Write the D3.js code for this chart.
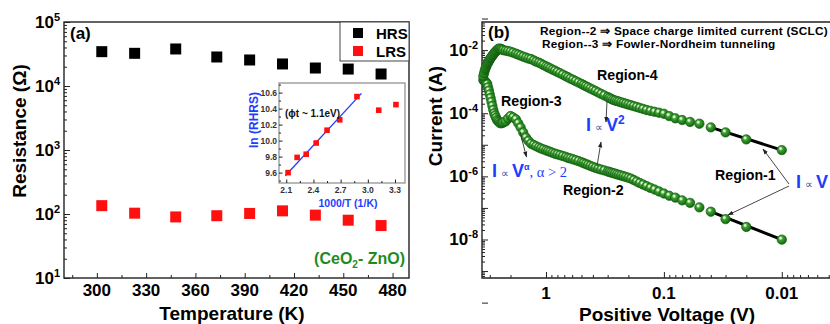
<!DOCTYPE html>
<html>
<head>
<meta charset="utf-8">
<script src="https://cdn.jsdelivr.net/npm/d3@7"></script>
<style>
  body { margin: 0; background: #fff; }
  svg { display: block; font-family: "Liberation Sans", Arial, Helvetica, sans-serif; font-weight: bold; }
</style>
</head>
<body>
<svg id="chart" width="830" height="324"></svg>
<script>
// ---- panel (a): resistance vs temperature
var temperature = [303, 323, 348, 373, 393, 413, 433, 453, 473];
var hrsOhm = [34400, 32400, 37900, 28400, 25500, 22100, 19100, 18400, 15400];
var lrsOhm = [135, 103, 90, 94, 102, 112, 96, 80, 66];
var tempTicks = [300, 330, 360, 390, 420, 450, 480];
var resTicks = [1e1, 1e2, 1e3, 1e4, 1e5];

// ---- inset: ln(R_HRS) vs 1000/T
var invTemp = [2.12, 2.22, 2.32, 2.43, 2.55, 2.69, 2.88, 3.12, 3.31];
var lnRhrs = [9.60, 9.79, 9.83, 9.97, 10.13, 10.26, 10.55, 10.38, 10.45];
var fitInvT = [2.09, 2.93];
var fitLnR = [9.56, 10.59];
var insetXTicks = [2.1, 2.4, 2.7, 3.0, 3.3];
var insetYTicks = [9.6, 9.8, 10.0, 10.2, 10.4, 10.6];

// ---- panel (b): current vs positive voltage
var voltage = [3.4, 3.35, 3.3, 3.25, 3.2, 3.15, 3.1, 3.05, 3.0, 2.95, 2.9, 2.85, 2.8, 2.75, 2.7, 2.65,
  2.6, 2.55, 2.5, 2.45, 2.4, 2.35, 2.3, 2.2, 2.1, 2.0, 1.9, 1.8, 1.72, 1.64, 1.56, 1.48, 1.41, 1.34,
  1.27, 1.21, 1.15, 1.1, 1.05, 1.0, 0.96, 0.92, 0.88, 0.84, 0.80, 0.76, 0.72, 0.68, 0.65, 0.62, 0.59,
  0.56, 0.53, 0.50, 0.48, 0.46, 0.44, 0.42, 0.40, 0.38, 0.36, 0.34, 0.32, 0.30, 0.29, 0.28, 0.27, 0.26,
  0.25, 0.24, 0.23, 0.22, 0.21, 0.20, 0.19, 0.18, 0.17, 0.16, 0.15, 0.14, 0.13, 0.12, 0.11, 0.10, 0.09,
  0.08, 0.07, 0.06, 0.05, 0.04, 0.03, 0.02, 0.01];
var currentLRS = [1.50e-3, 1.87e-3, 2.33e-3, 2.69e-3, 3.12e-3, 3.61e-3, 4.02e-3, 4.49e-3, 5.0e-3, 5.58e-3,
  6.0e-3, 6.7e-3, 7.2e-3, 8.0e-3, 8.6e-3, 9.3e-3, 1.0e-2, 1.08e-2, 1.11e-2, 1.11e-2, 1.08e-2, 1.04e-2,
  1.0e-2, 9.6e-3, 9.3e-3, 8.9e-3, 8.3e-3, 7.7e-3, 7.2e-3, 6.7e-3, 6.2e-3, 5.8e-3, 5.4e-3, 5.2e-3, 4.7e-3,
  4.3e-3, 4.0e-3, 3.7e-3, 3.35e-3, 3.07e-3, 2.85e-3, 2.64e-3, 2.41e-3, 2.23e-3, 2.03e-3, 1.85e-3, 1.67e-3,
  1.49e-3, 1.38e-3, 1.25e-3, 1.15e-3, 1.04e-3, 9.4e-4, 8.5e-4, 7.8e-4, 7.2e-4, 6.65e-4, 6.05e-4, 5.55e-4,
  5.05e-4, 4.55e-4, 4.08e-4, 3.66e-4, 3.26e-4, 3.05e-4, 2.86e-4, 2.66e-4, 2.54e-4, 2.43e-4, 2.33e-4,
  2.21e-4, 2.10e-4, 2.0e-4, 1.88e-4, 1.79e-4, 1.68e-4, 1.58e-4, 1.47e-4, 1.37e-4, 1.26e-4, 1.19e-4,
  1.11e-4, 1.04e-4, 9.6e-5, 8.1e-5, 6.9e-5, 6.1e-5, 5.3e-5, 4.66e-5, 3.56e-5, 2.47e-5, 1.48e-5, 6.8e-6];
var currentHRS = [1.12e-3, 1.08e-3, 1.02e-3, 9.7e-4, 9.2e-4, 8.4e-4, 6.6e-4, 5.2e-4, 3.96e-4, 3.03e-4,
  2.31e-4, 1.71e-4, 1.28e-4, 1.0e-4, 8.45e-5, 7.15e-5, 6.1e-5, 5.66e-5, 5.27e-5, 4.86e-5, 4.83e-5, 4.9e-5,
  5.11e-5, 5.5e-5, 6.75e-5, 8.15e-5, 7.4e-5, 6.4e-5, 4.83e-5, 3.53e-5, 2.45e-5, 1.70e-5, 1.34e-5, 1.09e-5,
  9.86e-6, 8.97e-6, 8.22e-6, 7.64e-6, 7.15e-6, 6.7e-6, 6.32e-6, 5.96e-6, 5.58e-6, 5.23e-6, 4.97e-6,
  4.69e-6, 4.42e-6, 4.14e-6, 3.85e-6, 3.68e-6, 3.47e-6, 3.26e-6, 3.05e-6, 2.79e-6, 2.64e-6, 2.47e-6,
  2.31e-6, 2.15e-6, 2.0e-6, 1.86e-6, 1.75e-6, 1.64e-6, 1.54e-6, 1.43e-6, 1.38e-6, 1.32e-6, 1.27e-6,
  1.22e-6, 1.16e-6, 1.11e-6, 1.06e-6, 1.01e-6, 9.57e-7, 9.03e-7, 8.46e-7, 7.64e-7, 6.85e-7, 6.14e-7,
  5.5e-7, 4.9e-7, 4.33e-7, 3.82e-7, 3.33e-7, 2.86e-7, 2.43e-7, 2.12e-7, 1.74e-7, 1.45e-7, 1.04e-7,
  7.6e-8, 4.42e-8, 2.5e-8, 9.9e-9];
var voltTicks = [1, 0.1, 0.01];
var currentTicks = [1e-2, 1e-4, 1e-6, 1e-8];
var ohmicFrom = 0.04; // Region-1 guide lines run from this voltage down to the last point

var svg = d3.select("#chart");
var blue = "#1f3dff", green = "#1f8c1f";

var defs = svg.append("defs");
var ball = defs.append("radialGradient").attr("id", "ball")
  .attr("cx", "42%").attr("cy", "40%").attr("r", "60%").attr("fx", "36%").attr("fy", "32%");
ball.append("stop").attr("offset", "0%").attr("stop-color", "#ffffff");
ball.append("stop").attr("offset", "16%").attr("stop-color", "#cfeec2");
ball.append("stop").attr("offset", "38%").attr("stop-color", "#3f9f33");
ball.append("stop").attr("offset", "78%").attr("stop-color", "#1f7d1a");
ball.append("stop").attr("offset", "100%").attr("stop-color", "#125610");
defs.append("marker").attr("id", "arr").attr("markerUnits", "userSpaceOnUse")
  .attr("viewBox", "0 0 10 10").attr("refX", 9).attr("refY", 5)
  .attr("markerWidth", 6).attr("markerHeight", 6).attr("orient", "auto")
  .append("path").attr("d", "M0,1.5L10,5L0,8.5z").attr("fill", "#222");

function minorLog(lo, hi) {
  var out = [];
  for (var e = -10; e <= 6; e++)
    for (var k = 2; k <= 9; k++) {
      var v = k * Math.pow(10, e);
      if (v > lo && v < hi) out.push(v);
    }
  return out;
}
function decades(lo, hi) {
  var out = [];
  for (var e = -10; e <= 6; e++) { var v = Math.pow(10, e); if (v >= lo && v <= hi) out.push(v); }
  return out;
}
function tickGroup(axis, transform) {
  var g = svg.append("g").attr("transform", transform).call(axis);
  g.select(".domain").remove();
  g.selectAll(".tick text").remove();
  g.selectAll(".tick line").attr("stroke", "#222").attr("stroke-width", 1);
  return g;
}
function powLabel(x, y, exp, anchor) {
  var t = svg.append("text").attr("x", x).attr("y", y).attr("text-anchor", anchor || "end")
    .attr("font-size", 17);
  t.append("tspan").text("10");
  t.append("tspan").attr("dy", -7).attr("font-size", 11).text(exp);
  return t;
}

// =========================== panel (a)
var A = { left: 64, right: 409, top: 22, bottom: 278 };
var xa = d3.scaleLinear().domain([280, 490]).range([A.left, A.right]);
var ya = d3.scaleLog().domain([10, 1e5]).range([A.bottom, A.top]);

tickGroup(d3.axisBottom(xa).tickValues(d3.range(285, 490, 30)).tickSize(-3), "translate(0," + A.bottom + ")");
tickGroup(d3.axisBottom(xa).tickValues(tempTicks).tickSize(-5), "translate(0," + A.bottom + ")");
tickGroup(d3.axisLeft(ya).tickValues(minorLog(10, 1e5)).tickSize(-3), "translate(" + A.left + ",0)");
tickGroup(d3.axisLeft(ya).tickValues(resTicks).tickSize(-6), "translate(" + A.left + ",0)");

svg.append("rect").attr("x", A.left).attr("y", A.top)
  .attr("width", A.right - A.left).attr("height", A.bottom - A.top)
  .attr("fill", "none").attr("stroke", "#222").attr("stroke-width", 1.4);

svg.append("g").selectAll("text").data(tempTicks).enter().append("text")
  .attr("x", function (d) { return xa(d); }).attr("y", A.bottom + 18)
  .attr("text-anchor", "middle").attr("font-size", 17).text(function (d) { return d; });
resTicks.forEach(function (d) {
  powLabel(A.left - 4, ya(d) + 6, String(Math.round(Math.log10(d))));
});

var sq = 11;
svg.append("g").selectAll("rect").data(temperature).enter().append("rect")
  .attr("x", function (d) { return xa(d) - sq / 2; })
  .attr("y", function (d, i) { return ya(hrsOhm[i]) - sq / 2; })
  .attr("width", sq).attr("height", sq).attr("fill", "#000");
svg.append("g").selectAll("rect").data(temperature).enter().append("rect")
  .attr("x", function (d) { return xa(d) - sq / 2; })
  .attr("y", function (d, i) { return ya(lrsOhm[i]) - sq / 2; })
  .attr("width", sq).attr("height", sq).attr("fill", "#ff1010");

// legend
svg.append("rect").attr("x", 340).attr("y", A.top).attr("width", A.right - 340).attr("height", 39)
  .attr("fill", "#fff").attr("stroke", "#444").attr("stroke-width", 1);
[["HRS", "#000", 33], ["LRS", "#ff1010", 51]].forEach(function (l) {
  svg.append("rect").attr("x", 353).attr("y", l[2] - 5).attr("width", 10).attr("height", 10).attr("fill", l[1]);
  svg.append("text").attr("x", 376).attr("y", l[2] + 5.5).attr("font-size", 15).text(l[0]);
});

svg.append("text").attr("x", 70).attr("y", 39).attr("font-size", 17).text("(a)");
var ce = svg.append("text").attr("x", 405).attr("y", 264).attr("text-anchor", "end")
  .attr("font-size", 16).attr("fill", green);
ce.append("tspan").text("(CeO");
ce.append("tspan").attr("dy", 4).attr("font-size", 10).text("2");
ce.append("tspan").attr("dy", -4).text("- ZnO)");

svg.append("text").attr("x", 232).attr("y", 320).attr("text-anchor", "middle")
  .attr("font-size", 19).text("Temperature (K)");
svg.append("text").attr("transform", "translate(26,131) rotate(-90)").attr("text-anchor", "middle")
  .attr("font-size", 19).text("Resistance (\u03a9)");

// ---- inset
var N = { left: 279, right: 405, top: 83, bottom: 183 };
var xi = d3.scaleLinear().domain([2.02, 3.41]).range([N.left, N.right]);
var yi = d3.scaleLinear().domain([9.47, 10.72]).range([N.bottom, N.top]);
svg.append("rect").attr("x", N.left).attr("y", N.top).attr("width", N.right - N.left)
  .attr("height", N.bottom - N.top).attr("fill", "#fff").attr("stroke", "#8a8a8a").attr("stroke-width", 1.2);
tickGroup(d3.axisBottom(xi).tickValues(d3.range(2.25, 3.4, 0.3)).tickSize(-2), "translate(0," + N.bottom + ")");
tickGroup(d3.axisBottom(xi).tickValues(insetXTicks).tickSize(-3.5), "translate(0," + N.bottom + ")");
tickGroup(d3.axisLeft(yi).tickValues(d3.range(9.5, 10.75, 0.2)).tickSize(-2), "translate(" + N.left + ",0)");
tickGroup(d3.axisLeft(yi).tickValues(insetYTicks).tickSize(-3.5), "translate(" + N.left + ",0)");
svg.append("g").selectAll("text").data(insetXTicks).enter().append("text")
  .attr("x", function (d) { return xi(d); }).attr("y", N.bottom + 10).attr("text-anchor", "middle")
  .attr("font-size", 8.5).attr("fill", "#333").text(function (d) { return d.toFixed(1); });
svg.append("g").selectAll("text").data(insetYTicks).enter().append("text")
  .attr("x", N.left - 2).attr("y", function (d) { return yi(d) + 3; }).attr("text-anchor", "end")
  .attr("font-size", 8.5).attr("fill", "#333").text(function (d) { return d.toFixed(1); });
svg.append("line").attr("x1", xi(fitInvT[0])).attr("y1", yi(fitLnR[0]))
  .attr("x2", xi(fitInvT[1])).attr("y2", yi(fitLnR[1])).attr("stroke", blue).attr("stroke-width", 1.3);
svg.append("g").selectAll("rect").data(invTemp).enter().append("rect")
  .attr("x", function (d) { return xi(d) - 2.8; })
  .attr("y", function (d, i) { return yi(lnRhrs[i]) - 2.8; })
  .attr("width", 5.6).attr("height", 5.6).attr("fill", "#ff1010");
svg.append("text").attr("x", 285).attr("y", 117).attr("font-size", 10).attr("fill", "#111")
  .text("(\u03d5t ~ 1.1eV)");
svg.append("text").attr("x", 348).attr("y", 207).attr("text-anchor", "middle")
  .attr("font-size", 10.5).attr("fill", blue).text("1000/T (1/K)");
svg.append("text").attr("transform", "translate(258,120) rotate(-90)").attr("text-anchor", "middle")
  .attr("font-size", 12).attr("fill", blue).text("ln (RHRS)");

// =========================== panel (b)
var B = { left: 482, right: 830, top: 22, bottom: 278 };
var xb = d3.scaleLog().domain([3.49, 0.0039]).range([B.left, B.right]);
var yb = d3.scaleLog().domain([Math.pow(10, -9.22), Math.pow(10, -1.11)]).range([B.bottom, B.top]);

tickGroup(d3.axisBottom(xb).tickValues(minorLog(0.0039, 3.49)).tickSize(-3), "translate(0," + B.bottom + ")");
tickGroup(d3.axisBottom(xb).tickValues(voltTicks).tickSize(-6), "translate(0," + B.bottom + ")");
tickGroup(d3.axisLeft(yb).tickValues(minorLog(Math.pow(10, -9.22), Math.pow(10, -1.11))).tickSize(-3), "translate(" + B.left + ",0)");
tickGroup(d3.axisLeft(yb).tickValues(decades(1e-10, 1e-1)).tickSize(-6), "translate(" + B.left + ",0)");

svg.append("path").attr("d", "M" + (B.right + 2) + "," + B.top + "H" + B.left + "V" + B.bottom + "H" + (B.right + 2))
  .attr("fill", "none").attr("stroke", "#222").attr("stroke-width", 1.4);

svg.append("g").selectAll("text").data(voltTicks).enter().append("text")
  .attr("x", function (d) { return xb(d); }).attr("y", B.bottom + 21).attr("text-anchor", "middle")
  .attr("font-size", 17).text(function (d) { return String(d); });
currentTicks.forEach(function (d) {
  powLabel(B.left - 4, yb(d) + 6, String(Math.round(Math.log10(d))));
});

// Region-1 guide lines
var iOhm = voltage.indexOf(ohmicFrom), iEnd = voltage.length - 1;
[currentLRS, currentHRS].forEach(function (cur) {
  svg.append("line").attr("x1", xb(voltage[iOhm])).attr("y1", yb(cur[iOhm]))
    .attr("x2", xb(voltage[iEnd])).attr("y2", yb(cur[iEnd]))
    .attr("stroke", "#000").attr("stroke-width", 3);
});

[currentHRS, currentLRS].forEach(function (cur) {
  svg.append("g").selectAll("circle").data(voltage).enter().append("circle")
    .attr("cx", function (d) { return xb(d); })
    .attr("cy", function (d, i) { return yb(cur[i]); })
    .attr("r", 4.7).attr("fill", "url(#ball)").attr("stroke", "#166312").attr("stroke-width", 0.7);
});

svg.append("text").attr("x", 488).attr("y", 38).attr("font-size", 17).text("(b)");
svg.append("text").attr("x", 540).attr("y", 34.5).attr("font-size", 11.8).attr("letter-spacing", 0.25)
  .text("Region--2 \u21d2 Space charge limited current (SCLC)");
svg.append("text").attr("x", 542).attr("y", 47.5).attr("font-size", 11.8).attr("letter-spacing", 0.25)
  .text("Region--3 \u21d2 Fowler-Nordheim tunneling");

[["Region-4", 597, 80], ["Region-3", 501, 106], ["Region-2", 563, 195], ["Region-1", 715, 180]].forEach(function (r) {
  svg.append("text").attr("x", r[1]).attr("y", r[2]).attr("font-size", 14.2).text(r[0]);
});

function propLabel(x, y, exp, tail) {
  var t = svg.append("text").attr("x", x).attr("y", y).attr("fill", blue).attr("font-size", 18);
  t.append("tspan").text("I");
  t.append("tspan").attr("dx", 4).attr("font-size", 11).attr("font-weight", "normal").attr("fill", "#3a4aa0").text("\u221d");
  t.append("tspan").attr("dx", 3).text("V");
  if (exp) t.append("tspan").attr("dy", -7).attr("font-size", exp === "2" ? 12 : 9).text(exp);
  if (tail) t.append("tspan").attr("dy", 7).attr("font-family", "'Liberation Serif', 'Times New Roman', serif")
    .attr("font-weight", "normal").attr("font-size", 14.5).text(tail);
  return t;
}
propLabel(586, 131, "2");
propLabel(492, 177, "\u03b1", ", \u03b1 > 2");
propLabel(796, 188, null);

function arrow(x1, y1, x2, y2) {
  svg.append("line").attr("x1", x1).attr("y1", y1).attr("x2", x2).attr("y2", y2)
    .attr("stroke", "#333").attr("stroke-width", 0.9).attr("marker-end", "url(#arr)");
}
arrow(607, 101, 606, 122);
arrow(597, 166, 601, 142);
arrow(520, 132, 526.5, 157);
arrow(789, 184, 763, 149);
arrow(789, 186, 728, 215);

svg.append("text").attr("x", 667).attr("y", 321).attr("text-anchor", "middle")
  .attr("font-size", 19).text("Positive Voltage (V)");
svg.append("text").attr("transform", "translate(442,116) rotate(-90)").attr("text-anchor", "middle")
  .attr("font-size", 19).text("Current (A)");
</script>
</body>
</html>
